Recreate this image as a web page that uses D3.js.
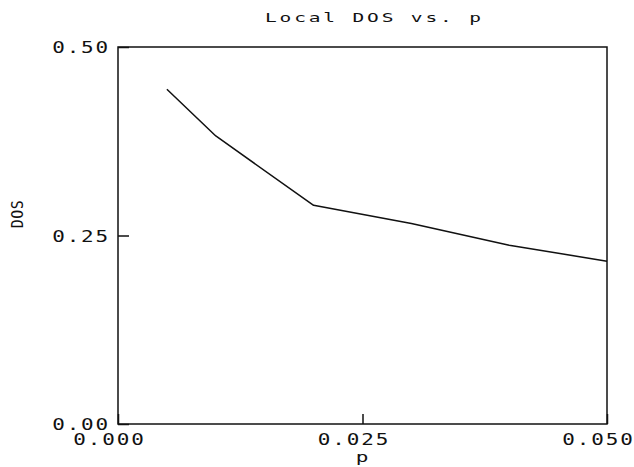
<!DOCTYPE html>
<html>
<head>
<meta charset="utf-8">
<script src="https://cdn.jsdelivr.net/npm/d3@7"></script>
<style>
  html, body { margin: 0; padding: 0; background: #fff; }
  svg { display: block; }
  text { font-family: "DejaVu Sans Mono", monospace; fill: #111; }
</style>
</head>
<body>
<svg id="chart" width="634" height="467"></svg>
<script>
// Local density of states as a function of p
const pValues = [0.005, 0.010, 0.020, 0.030, 0.040, 0.050];
const dosValues = [0.444, 0.382, 0.290, 0.266, 0.237, 0.216];

const xTicks = [0.000, 0.025, 0.050];
const yTicks = [0.00, 0.25, 0.50];

const titleText = "Local DOS vs. p";
const xLabel = "p";
const yLabel = "DOS";

const plot = { left: 118, right: 607, top: 47, bottom: 424 };
const ink = "#111";

// wide, evenly spaced lettering in the style of a pen plotter
const wide = 1.4;

const svg = d3.select("#chart");

const x = d3.scaleLinear().domain([0, 0.05]).range([plot.left, plot.right]);
const y = d3.scaleLinear().domain([0, 0.5]).range([plot.bottom, plot.top]);

// frame
svg.append("rect")
  .attr("x", plot.left).attr("y", plot.top)
  .attr("width", plot.right - plot.left)
  .attr("height", plot.bottom - plot.top)
  .attr("fill", "none").attr("stroke", ink).attr("stroke-width", 1.5);

// x axis: inward ticks, labels below
const xAxis = svg.append("g")
  .attr("transform", `translate(0,${plot.bottom})`)
  .call(d3.axisBottom(x).tickValues(xTicks).tickSize(-10).tickPadding(0)
    .tickFormat(d3.format(".3f")));
xAxis.select(".domain").remove();
xAxis.selectAll(".tick line").attr("stroke", ink).attr("stroke-width", 1.5);
xAxis.selectAll(".tick text")
  .attr("x", null).attr("y", null).attr("dy", null)
  .attr("text-anchor", "middle")
  .attr("transform", `translate(-9,21) scale(${wide},1)`)
  .attr("font-size", 15).attr("letter-spacing", 1.3)
  .attr("font-family", "DejaVu Sans Mono").attr("fill", ink);

// y axis: inward ticks, labels left
const yAxis = svg.append("g")
  .attr("transform", `translate(${plot.left},0)`)
  .call(d3.axisLeft(y).tickValues(yTicks).tickSize(-11).tickPadding(0)
    .tickFormat(d3.format(".2f")));
yAxis.select(".domain").remove();
yAxis.selectAll(".tick line").attr("stroke", ink).attr("stroke-width", 1.5);
yAxis.selectAll(".tick text")
  .attr("x", null).attr("dy", null)
  .attr("text-anchor", "end")
  .attr("transform", `translate(-8,5.5) scale(${wide},1)`)
  .attr("font-size", 15).attr("letter-spacing", 1.3)
  .attr("font-family", "DejaVu Sans Mono").attr("fill", ink);

// curve
const line = d3.line().x((d, i) => x(pValues[i])).y(d => y(d));
svg.append("path")
  .datum(dosValues)
  .attr("d", line)
  .attr("fill", "none").attr("stroke", ink).attr("stroke-width", 1.5)
  .attr("stroke-linejoin", "round");

// title
svg.append("text")
  .attr("transform", `translate(265,22) scale(1.5,1)`)
  .attr("font-size", 13).attr("letter-spacing", 1.9)
  .text(titleText);

// axis titles
svg.append("text")
  .attr("transform", "translate(362,462) scale(1.5,1)")
  .attr("text-anchor", "middle")
  .attr("font-size", 14)
  .text(xLabel);

svg.append("text")
  .attr("transform", "translate(23,214) rotate(-90)")
  .attr("text-anchor", "middle")
  .attr("font-size", 15).attr("letter-spacing", 0.5)
  .text(yLabel);
</script>
</body>
</html>
